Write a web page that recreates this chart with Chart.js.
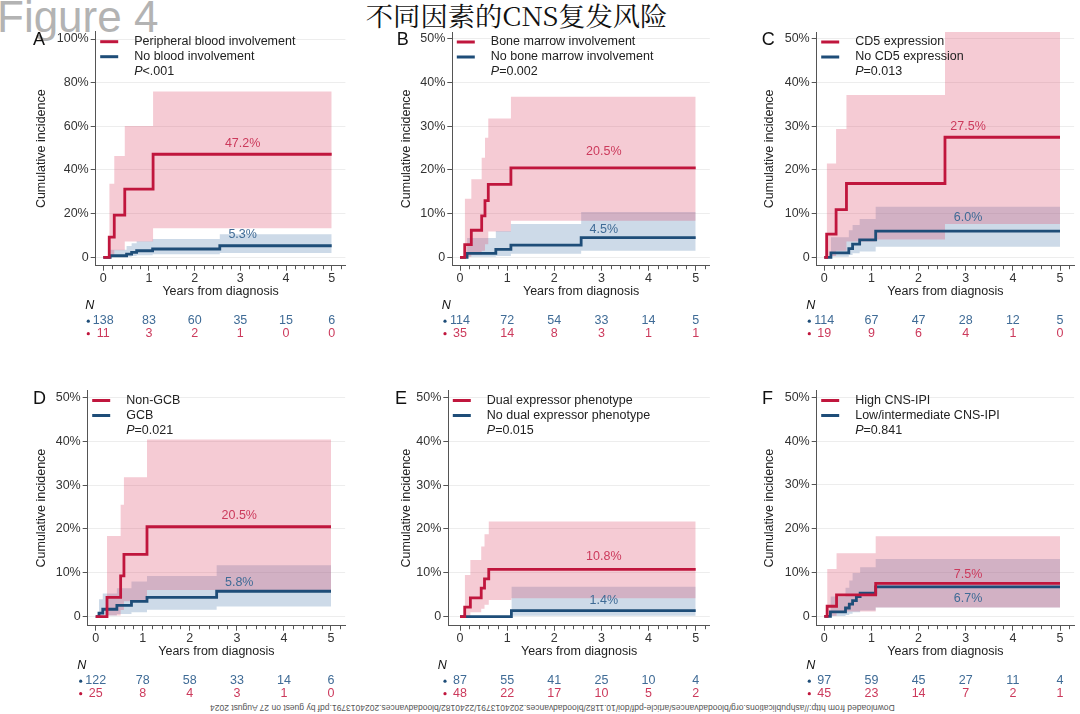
<!DOCTYPE html>
<html><head><meta charset="utf-8">
<script src="https://cdn.jsdelivr.net/npm/chart.js@4.4.1/dist/chart.umd.min.js"></script>
<style>
html,body{margin:0;padding:0;background:#fff;}
body{width:1080px;height:714px;position:relative;overflow:hidden;font-family:"Liberation Sans",Arial,sans-serif;}
canvas{position:absolute;left:0;top:0;}
#fig{position:absolute;left:-3px;top:-5px;font-size:44px;line-height:44px;color:#b3b3b3;white-space:nowrap;}
#title{position:absolute;left:0;top:0;width:1034px;text-align:center;font-family:"Noto Serif CJK SC","Noto Sans CJK SC",serif;font-size:26px;line-height:30px;color:#111;white-space:nowrap;}
#title span{display:inline-block;transform:scaleX(1.05);transform-origin:center;}
#foot{position:absolute;left:210px;top:703px;font-size:8.5px;line-height:10px;color:#555;white-space:nowrap;transform:rotate(180deg);}
</style></head><body>
<div id="fig">Figure 4</div>
<div id="title"><span>不同因素的CNS复发风险</span></div>
<div id="foot">Downloaded from http://ashpublications.org/bloodadvances/article-pdf/doi/10.1182/bloodadvances.2024013791/2240182/bloodadvances.2024013791.pdf by guest on 27 August 2024</div>
<script>
// ---------- data ----------
const years = [0, 1, 2, 3, 4, 5];

// Panel A
const aLegend = ['Peripheral blood involvement', 'No blood involvement'];
const aP = '<.001';
const aRedT = [0, 0.13, 0.24, 0.47, 1.09, 5];
const aRedY = [0, 9.2, 19.3, 31.2, 47.2, 47.2];
const aRedBandT = [0.13, 0.24, 0.47, 1.09, 5];
const aRedLo = [0.5, 3.2, 7.2, 13.3, 13.3];
const aRedHi = [33.7, 46.4, 60.2, 75.9, 75.9];
const aBlueT = [0, 0.15, 0.51, 0.62, 0.73, 1.08, 2.55, 5];
const aBlueY = [0, 0.7, 1.5, 2.3, 3.0, 3.8, 5.3, 5.3];
const aBlueBandT = [0.15, 0.51, 0.62, 0.73, 1.08, 2.55, 5];
const aBlueLo = [0.1, 0.3, 0.6, 0.9, 1.4, 2.0, 2.0];
const aBlueHi = [3.5, 5.2, 6.4, 7.4, 8.4, 10.6, 10.6];
const aNBlue = [138, 83, 60, 35, 15, 6];
const aNRed = [11, 3, 2, 1, 0, 0];

// Panel B
const bLegend = ['Bone marrow involvement', 'No bone marrow involvement'];
const bP = '=0.002';
const bRedT = [0, 0.1, 0.24, 0.46, 0.53, 0.6, 1.08, 5];
const bRedY = [0, 2.9, 6.2, 9.5, 13.0, 16.7, 20.5, 20.5];
const bRedBandT = [0.1, 0.24, 0.46, 0.53, 0.6, 1.08, 5];
const bRedLo = [0.1, 0.6, 1.5, 3.0, 5.9, 8.4, 8.4];
const bRedHi = [13.4, 17.9, 22.8, 27.4, 31.8, 36.8, 36.8];
const bBlueT = [0, 0.15, 0.76, 1.08, 2.57, 5];
const bBlueY = [0, 0.9, 1.8, 2.8, 4.5, 4.5];
const bBlueBandT = [0.15, 0.76, 1.08, 2.57, 5];
const bBlueLo = [0.1, 0.3, 0.8, 1.5, 1.5];
const bBlueHi = [4.4, 6.0, 7.6, 10.4, 10.4];
const bNBlue = [114, 72, 54, 33, 14, 5];
const bNRed = [35, 14, 8, 3, 1, 1];

// Panel C
const cLegend = ['CD5 expression', 'No CD5 expression'];
const cP = '=0.013';
const cRedT = [0, 0.05, 0.25, 0.47, 2.56, 5];
const cRedY = [0, 5.3, 10.9, 16.9, 27.5, 27.5];
const cRedBandT = [0.05, 0.25, 0.47, 1.09, 2.56, 5];
const cRedLo = [0.3, 1.5, 3.6, 4.1, 7.6, 7.6];
const cRedHi = [21.5, 29.4, 37.2, 37.2, 52.5, 52.5];
const cBlueT = [0, 0.14, 0.52, 0.6, 0.75, 1.09, 5];
const cBlueY = [0, 1.0, 2.0, 3.0, 4.0, 6.0, 6.0];
const cBlueBandT = [0.14, 0.52, 0.6, 0.75, 1.09, 5];
const cBlueLo = [0.1, 0.5, 0.9, 1.3, 2.4, 2.4];
const cBlueHi = [4.6, 6.2, 7.4, 8.8, 11.6, 11.6];
const cNBlue = [114, 67, 47, 28, 12, 5];
const cNRed = [19, 9, 6, 4, 1, 0];

// Panel D
const dLegend = ['Non-GCB', 'GCB'];
const dP = '=0.021';
const dRedT = [0, 0.24, 0.53, 0.6, 1.09, 5];
const dRedY = [0, 4.4, 9.3, 14.2, 20.5, 20.5];
const dRedBandT = [0.24, 0.53, 0.6, 1.09, 5];
const dRedLo = [0.3, 1.5, 3.5, 6.1, 6.1];
const dRedHi = [18.4, 25.5, 31.8, 40.4, 40.4];
const dBlueT = [0, 0.07, 0.15, 0.45, 0.76, 1.09, 2.57, 5];
const dBlueY = [0, 0.8, 1.7, 2.6, 3.5, 4.4, 5.8, 5.8];
const dBlueBandT = [0.07, 0.15, 0.45, 0.76, 1.09, 2.57, 5];
const dBlueLo = [0.05, 0.3, 0.6, 1.0, 1.6, 2.3, 2.3];
const dBlueHi = [4.0, 5.3, 6.5, 8.0, 9.3, 11.7, 11.7];
const dNBlue = [122, 78, 58, 33, 14, 6];
const dNRed = [25, 8, 4, 3, 1, 0];

// Panel E
const eLegend = ['Dual expressor phenotype', 'No dual expressor phenotype'];
const eP = '=0.015';
const eRedT = [0, 0.1, 0.22, 0.45, 0.52, 0.61, 5];
const eRedY = [0, 2.2, 4.3, 6.5, 8.6, 10.8, 10.8];
const eRedBandT = [0.1, 0.22, 0.45, 0.52, 0.61, 1.09, 5];
const eRedLo = [0.1, 1.0, 1.8, 2.7, 3.8, 4.2, 4.2];
const eRedHi = [9.5, 12.9, 16.0, 18.8, 21.7, 21.7, 21.7];
const eBlueT = [0, 1.09, 5];
const eBlueY = [0, 1.4, 1.4];
const eBlueBandT = [1.09, 5];
const eBlueLo = [0.2, 0.2];
const eBlueHi = [6.8, 6.8];
const eNBlue = [87, 55, 41, 25, 10, 4];
const eNRed = [48, 22, 17, 10, 5, 2];

// Panel F
const fLegend = ['High CNS-IPI', 'Low/intermediate CNS-IPI'];
const fP = '=0.841';
const fRedT = [0, 0.06, 0.26, 1.09, 5];
const fRedY = [0, 2.3, 4.9, 7.5, 7.5];
const fRedBandT = [0.06, 0.26, 1.09, 5];
const fRedLo = [0.1, 1.1, 2.0, 2.0];
const fRedHi = [10.8, 14.4, 18.3, 18.3];
const fBlueT = [0, 0.13, 0.45, 0.53, 0.6, 0.68, 0.76, 1.09, 5];
const fBlueY = [0, 1.0, 1.9, 2.8, 3.6, 4.5, 5.3, 6.7, 6.7];
const fBlueBandT = [0.13, 0.45, 0.53, 0.6, 0.76, 1.09, 5];
const fBlueLo = [0.05, 0.3, 0.6, 0.9, 1.3, 2.0, 2.0];
const fBlueHi = [4.5, 6.5, 8.2, 9.9, 11.2, 13.1, 13.1];
const fNBlue = [97, 59, 45, 27, 11, 4];
const fNRed = [45, 23, 14, 7, 2, 1];

// ---------- style ----------
const FONT = '"Liberation Sans", Arial, Helvetica, sans-serif';
const FS = 12.5;
const RED = '#c0163d';
const BLUE = '#1e4d78';
const RED_BAND = 'rgba(222,82,112,0.30)';
const BLUE_BAND = 'rgba(70,120,170,0.27)';
const RED_TXT = '#cc3a5c';
const BLUE_TXT = '#3f6b96';
const AXIS = '#555555';
const YW = 66, XH = 40;

const panels = [
  {letter:'A', L:95.7, x0:103.3, x5:331.7, T:31.7, B:265.7, y0:257.3, yTop:39, yMax:100, yStep:20, yTitleD:54, letterX:33,
   redT:aRedT, redY:aRedY, redBandT:aRedBandT, redLo:aRedLo, redHi:aRedHi,
   blueT:aBlueT, blueY:aBlueY, blueBandT:aBlueBandT, blueLo:aBlueLo, blueHi:aBlueHi,
   nBlue:aNBlue, nRed:aNRed, legend:aLegend, p:aP, labelDy:[-11, -11.4]},
  {letter:'B', L:452.3, x0:460, x5:695.7, T:32, B:265.7, y0:257.3, yTop:39, yMax:50, yStep:10, yTitleD:45.6, letterX:396.7,
   redT:bRedT, redY:bRedY, redBandT:bRedBandT, redLo:bRedLo, redHi:bRedHi,
   blueT:bBlueT, blueY:bBlueY, blueBandT:bBlueBandT, blueLo:bBlueLo, blueHi:bBlueHi,
   nBlue:bNBlue, nRed:bNRed, legend:bLegend, p:bP, labelDy:[-16, -8.4]},
  {letter:'C', L:816.7, x0:824.3, x5:1060, T:32, B:265.7, y0:257.3, yTop:39, yMax:50, yStep:10, yTitleD:46.7, letterX:761.7,
   redT:cRedT, redY:cRedY, redBandT:cRedBandT, redLo:cRedLo, redHi:cRedHi,
   blueT:cBlueT, blueY:cBlueY, blueBandT:cBlueBandT, blueLo:cBlueLo, blueHi:cBlueHi,
   nBlue:cNBlue, nRed:cNRed, legend:cLegend, p:cP, labelDy:[-10.5, -13.8]},
  {letter:'D', L:87.7, x0:95.7, x5:331, T:390.5, B:625.7, y0:616.7, yTop:397.3, yMax:50, yStep:10, yTitleD:46, letterX:33,
   redT:dRedT, redY:dRedY, redBandT:dRedBandT, redLo:dRedLo, redHi:dRedHi,
   blueT:dBlueT, blueY:dBlueY, blueBandT:dBlueBandT, blueLo:dBlueLo, blueHi:dBlueHi,
   nBlue:dNBlue, nRed:dNRed, legend:dLegend, p:dP, labelDy:[-11, -9]},
  {letter:'E', L:448.3, x0:460, x5:695.7, T:390.5, B:625.7, y0:616.7, yTop:397.3, yMax:50, yStep:10, yTitleD:41.6, letterX:395,
   redT:eRedT, redY:eRedY, redBandT:eRedBandT, redLo:eRedLo, redHi:eRedHi,
   blueT:eBlueT, blueY:eBlueY, blueBandT:eBlueBandT, blueLo:eBlueLo, blueHi:eBlueHi,
   nBlue:eNBlue, nRed:eNRed, legend:eLegend, p:eP, labelDy:[-12.6, -10]},
  {letter:'F', L:816.7, x0:824.3, x5:1060, T:390.5, B:625.7, y0:616.3, yTop:397.3, yMax:50, yStep:10, yTitleD:46.7, letterX:762,
   redT:fRedT, redY:fRedY, redBandT:fRedBandT, redLo:fRedLo, redHi:fRedHi,
   blueT:fBlueT, blueY:fBlueY, blueBandT:fBlueBandT, blueLo:fBlueLo, blueHi:fBlueHi,
   nBlue:fNBlue, nRed:fNRed, legend:fLegend, p:fP, labelDy:[-8.8, 11.7]}
];

function pts(t, y) { return t.map((v, i) => ({x: v, y: y[i]})); }

function decoPlugin(p, xmax) {
  return {
    id: 'deco' + p.letter,
    afterDraw(chart) {
      const {ctx, chartArea: ca, scales: {x: xs, y: ys}} = chart;
      ctx.save();
      // minor ticks on x axis
      ctx.strokeStyle = AXIS; ctx.lineWidth = 1;
      for (let k = 1; k * 0.2 <= xmax + 1e-9; k++) {
        const v = k * 0.2;
        if (Math.abs(v - Math.round(v)) < 1e-6) continue;
        const px = Math.round(xs.getPixelForValue(v)) + 0.5;
        ctx.beginPath(); ctx.moveTo(px, ca.bottom); ctx.lineTo(px, ca.bottom + 3.5); ctx.stroke();
      }
      // panel letter
      ctx.fillStyle = '#111';
      ctx.textBaseline = 'middle'; ctx.textAlign = 'left';
      ctx.font = `18px ${FONT}`;
      ctx.fillText(p.letter, p.letterX, ys.getPixelForValue(p.yMax) + 1.5);
      // legend
      const lx = ca.left + 4.5, tx = ca.left + 38.5;
      const rows = [[RED, p.legend[0], ca.top + 10], [BLUE, p.legend[1], ca.top + 25]];
      ctx.font = `${FS}px ${FONT}`;
      rows.forEach(([c, txt, y]) => {
        ctx.strokeStyle = c; ctx.lineWidth = 3;
        ctx.beginPath(); ctx.moveTo(lx, y); ctx.lineTo(lx + 18, y); ctx.stroke();
        ctx.fillStyle = '#222'; ctx.fillText(txt, tx, y);
      });
      ctx.font = `italic ${FS}px ${FONT}`;
      ctx.fillText('P', tx, ca.top + 40);
      const w = ctx.measureText('P').width;
      ctx.font = `${FS}px ${FONT}`;
      ctx.fillText(p.p, tx + w, ca.top + 40);
      // end labels
      ctx.textAlign = 'center';
      const lxp = xs.getPixelForValue(3.05);
      const rEnd = p.redY[p.redY.length - 1], bEnd = p.blueY[p.blueY.length - 1];
      ctx.fillStyle = RED_TXT;
      ctx.fillText(rEnd.toFixed(1) + '%', lxp, ys.getPixelForValue(rEnd) + p.labelDy[0]);
      ctx.fillStyle = BLUE_TXT;
      ctx.fillText(bEnd.toFixed(1) + '%', lxp, ys.getPixelForValue(bEnd) + p.labelDy[1]);
      // risk table
      const by = ca.bottom;
      ctx.textAlign = 'left'; ctx.fillStyle = '#111';
      ctx.font = `italic ${FS}px ${FONT}`;
      ctx.fillText('N', ca.left - 10.5, by + 40);
      ctx.font = `${FS}px ${FONT}`;
      ctx.textAlign = 'center';
      [[p.nBlue, BLUE_TXT, BLUE, by + 55], [p.nRed, RED_TXT, RED, by + 67.5]].forEach(([arr, c, dc, y]) => {
        ctx.fillStyle = c;
        years.forEach((yr, i) => ctx.fillText(String(arr[i]), xs.getPixelForValue(yr), y));
        ctx.fillStyle = dc;
        ctx.beginPath(); ctx.arc(xs.getPixelForValue(0) - 15, y + 0.5, 1.6, 0, Math.PI * 2); ctx.fill();
      });
      ctx.restore();
    }
  };
}

panels.forEach((p, idx) => {
  const cv = document.createElement('canvas');
  cv.width = 1080; cv.height = 714;
  document.body.appendChild(cv);
  const ppy = (p.x5 - p.x0) / 5;
  const R = p.x5 + 0.3 * ppy;
  const xmin = (p.L - p.x0) / ppy, xmax = (R - p.x0) / ppy;
  const ppu = (p.y0 - p.yTop) / p.yMax;
  const ymin = -(p.B - p.y0) / ppu, ymax = p.yMax + (p.yTop - p.T) / ppu;
  const yTicks = [];
  for (let v = 0; v <= p.yMax + 1e-9; v += p.yStep) yTicks.push(v);
  const lineDs = (t, y, c) => ({data: pts(t, y), borderColor: c, borderWidth: 2.8, stepped: true, pointRadius: 0, fill: false, borderJoinStyle: 'miter', borderCapStyle: 'butt'});
  const bandLo = (t, y) => ({data: pts(t, y), borderWidth: 0, borderColor: 'rgba(0,0,0,0)', stepped: true, pointRadius: 0, fill: false});
  const bandHi = (t, y, c) => ({data: pts(t, y), borderWidth: 0, borderColor: 'rgba(0,0,0,0)', stepped: true, pointRadius: 0, fill: '-1', backgroundColor: c});
  new Chart(cv, {
    type: 'line',
    data: {datasets: [
      lineDs(p.redT, p.redY, RED),
      lineDs(p.blueT, p.blueY, BLUE),
      bandLo(p.redBandT, p.redLo),
      bandHi(p.redBandT, p.redHi, RED_BAND),
      bandLo(p.blueBandT, p.blueLo),
      bandHi(p.blueBandT, p.blueHi, BLUE_BAND)
    ]},
    options: {
      responsive: false, animation: false, devicePixelRatio: 1,
      events: [],
      layout: {padding: {left: p.L - YW, right: 1080 - R, top: p.T, bottom: 714 - p.B - XH}},
      plugins: {legend: {display: false}, tooltip: {enabled: false}},
      scales: {
        x: {
          type: 'linear', min: xmin, max: xmax,
          afterBuildTicks: s => { s.ticks = years.map(v => ({value: v})); },
          afterFit: s => { s.height = XH; s.paddingLeft = 0; s.paddingRight = 0; s.paddingTop = 0; s.paddingBottom = 0; },
          grid: {drawOnChartArea: false, drawTicks: true, tickLength: 5, tickColor: AXIS, tickWidth: 1},
          border: {display: true, color: AXIS, width: 1},
          ticks: {font: {family: FONT, size: FS}, color: '#333', padding: 0, maxRotation: 0, autoSkip: false, callback: v => String(v)},
          title: {display: true, text: 'Years from diagnosis', font: {family: FONT, size: FS}, color: '#222', padding: {top: 0, bottom: 6.5}}
        },
        y: {
          type: 'linear', min: ymin, max: ymax,
          afterBuildTicks: s => { s.ticks = yTicks.map(v => ({value: v})); },
          afterFit: s => { s.width = YW; s.paddingLeft = 0; s.paddingRight = 0; s.paddingTop = 0; s.paddingBottom = 0; },
          grid: {color: '#ededed', lineWidth: 1, drawTicks: true, tickLength: 5, tickColor: AXIS},
          border: {display: true, color: AXIS, width: 1},
          ticks: {font: {family: FONT, size: FS}, color: '#333', padding: 2, autoSkip: false, callback: v => v === 0 ? '0' : v + '%'},
          title: {display: true, text: 'Cumulative incidence', font: {family: FONT, size: FS}, color: '#222', padding: {top: YW - p.yTitleD - 7.5, bottom: 0}}
        }
      }
    },
    plugins: [decoPlugin(p, xmax)]
  });
});
</script>
</body></html>
